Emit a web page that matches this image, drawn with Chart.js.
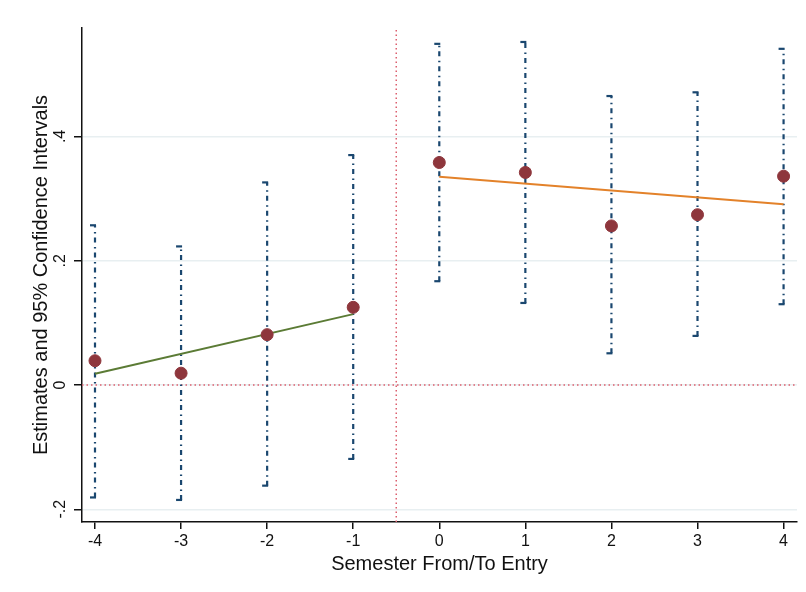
<!DOCTYPE html>
<html>
<head>
<meta charset="utf-8">
<script src="https://cdn.jsdelivr.net/npm/chart.js@4.4.1/dist/chart.umd.min.js"></script>
<style>
  html, body { margin: 0; padding: 0; background: #fff; }
  #wrap { width: 806px; height: 592px; }
</style>
</head>
<body>
<div id="wrap"><canvas id="c"></canvas></div>
<script>
// semestres em relação à entrada
const semesters = [-4, -3, -2, -1, 0, 1, 2, 3, 4];
// estimativas pontuais
const estimates = [0.039, 0.019, 0.081, 0.125, 0.358, 0.342, 0.256, 0.274, 0.336];
// intervalos de confiança 95%
const ciLow  = [-0.181, -0.185, -0.162, -0.119, 0.167, 0.132, 0.051, 0.079, 0.130];
const ciHigh = [0.257, 0.223, 0.326, 0.370, 0.549, 0.552, 0.465, 0.471, 0.541];
// retas ajustadas (pré e pós entrada)
const preFitX = [-4, -1];
const preFitY = [0.018, 0.114];
const postFitX = [0, 4];
const postFitY = [0.335, 0.291];
// eixos
const yTicks = [-0.2, 0, 0.2, 0.4];
const yTickLabels = ['-.2', '0', '.2', '.4'];
const xMin = -4.151, xMax = 4.156;
const yMin = -0.2205, yMax = 0.5745;
const cutoff = -0.5;

const FONT = "'Liberation Sans', Arial, Helvetica, sans-serif";
const navy = '#1a476f';
const refRed = '#dc5f6e';

// uma linha por intervalo de confiança
const ciSets = semesters.map((s, i) => ({
  type: 'line',
  data: [{ x: s, y: ciLow[i] }, { x: s, y: ciHigh[i] }],
  borderColor: navy,
  borderWidth: 2.2,
  borderDash: [5, 4, 1.5, 4.5],
  pointRadius: 0,
  order: 3
}));

// pequenas "capas" à esquerda nas pontas dos intervalos
const capPlugin = {
  id: 'caps',
  afterDatasetsDraw(chart) {
    const { ctx, scales: { x, y } } = chart;
    ctx.save();
    ctx.strokeStyle = navy;
    ctx.lineWidth = 2.2;
    semesters.forEach((s, i) => {
      const px = x.getPixelForValue(s);
      [ciLow[i], ciHigh[i]].forEach(v => {
        const py = y.getPixelForValue(v);
        ctx.beginPath();
        ctx.moveTo(px - 5, py);
        ctx.lineTo(px + 1, py);
        ctx.stroke();
      });
    });
    ctx.restore();
  }
};

new Chart(document.getElementById('c'), {
  type: 'scatter',
  data: {
    datasets: [
      {
        label: 'estimates',
        data: semesters.map((s, i) => ({ x: s, y: estimates[i] })),
        backgroundColor: '#8e363c',
        borderColor: '#8e363c',
        pointRadius: 6,
        pointHoverRadius: 6,
        order: 0
      },
      {
        type: 'line',
        data: preFitX.map((s, i) => ({ x: s, y: preFitY[i] })),
        borderColor: '#5b7b35',
        borderWidth: 2,
        pointRadius: 0,
        order: 1
      },
      {
        type: 'line',
        data: postFitX.map((s, i) => ({ x: s, y: postFitY[i] })),
        borderColor: '#e3822a',
        borderWidth: 2,
        pointRadius: 0,
        order: 1
      },
      // linha de referência vertical (corte) e horizontal em zero
      {
        type: 'line',
        data: [{ x: cutoff, y: yMin }, { x: cutoff, y: yMax }],
        borderColor: refRed,
        borderWidth: 1.5,
        borderDash: [1.5, 3],
        pointRadius: 0,
        order: 4
      },
      {
        type: 'line',
        data: [{ x: xMin, y: 0 }, { x: xMax, y: 0 }],
        borderColor: refRed,
        borderWidth: 1.5,
        borderDash: [1.5, 3],
        pointRadius: 0,
        order: 4
      },
      ...ciSets
    ]
  },
  options: {
    responsive: true,
    maintainAspectRatio: false,
    animation: false,
    layout: { padding: { top: 28, right: 9, left: 0, bottom: 16 } },
    plugins: { legend: { display: false }, tooltip: { enabled: false } },
    scales: {
      x: {
        type: 'linear',
        min: xMin,
        max: xMax,
        afterBuildTicks: axis => { axis.ticks = semesters.map(v => ({ value: v })); },
        afterFit: axis => { axis.height = 54; },
        ticks: {
          color: '#111',
          font: { family: FONT, size: 16 },
          padding: 3,
          callback: v => String(v)
        },
        grid: { display: true, drawOnChartArea: false, drawTicks: true, tickLength: 7, tickColor: '#111', lineWidth: 1.5 },
        border: { display: true, color: '#111', width: 1.5 },
        title: {
          display: true,
          text: 'Semester From/To Entry',
          color: '#111',
          font: { family: FONT, size: 20 },
          padding: { top: 2, bottom: 0 }
        }
      },
      y: {
        type: 'linear',
        min: yMin,
        max: yMax,
        afterBuildTicks: axis => { axis.ticks = yTicks.map(v => ({ value: v })); },
        afterFit: axis => { axis.width = 82; },
        ticks: {
          color: '#111',
          font: { family: FONT, size: 16 },
          minRotation: 90,
          maxRotation: 90,
          crossAlign: 'center',
          padding: 4,
          callback: v => yTickLabels[yTicks.findIndex(t => Math.abs(t - v) < 1e-9)]
        },
        grid: { color: '#e8eff1', lineWidth: 1.5, drawTicks: true, tickLength: 8, tickColor: '#111' },
        border: { display: true, color: '#111', width: 1.5 },
        title: {
          display: true,
          text: 'Estimates and 95% Confidence Intervals',
          color: '#111',
          font: { family: FONT, size: 20 },
          padding: { top: 29, bottom: 0 }
        }
      }
    }
  },
  plugins: [capPlugin]
});
</script>
</body>
</html>
